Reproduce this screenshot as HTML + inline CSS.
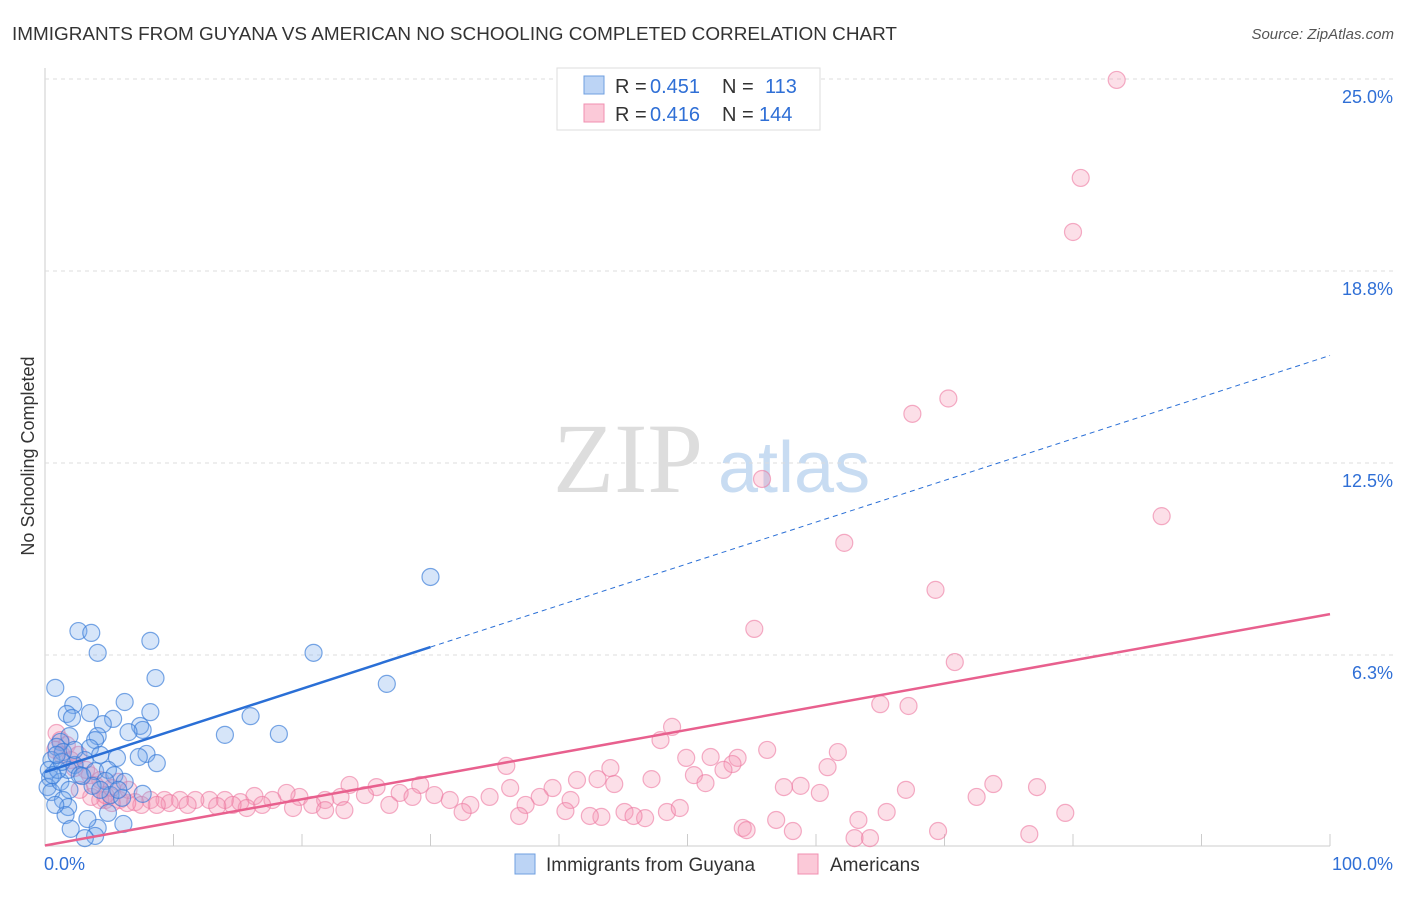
<!DOCTYPE html>
<html><head><meta charset="utf-8"><style>
body{margin:0;background:#fff;font-family:"Liberation Sans",sans-serif}
svg text{font-family:"Liberation Sans",sans-serif}
</style></head><body>
<svg id="c" width="1406" height="892">
<text x="12" y="40" font-size="18" fill="#333" textLength="885" lengthAdjust="spacingAndGlyphs">IMMIGRANTS FROM GUYANA VS AMERICAN NO SCHOOLING COMPLETED CORRELATION CHART</text>
<text x="1394" y="39" font-size="15" fill="#555" font-style="italic" text-anchor="end">Source: ZipAtlas.com</text>
<text transform="translate(34,456) rotate(-90)" font-size="18" fill="#333" text-anchor="middle">No Schooling Completed</text>
<text x="553" y="492" font-size="100" fill="#ddd" style="font-family:'Liberation Serif',serif">ZIP</text>
<text x="718" y="492" font-size="72" fill="#c8dcf2">atlas</text>
<g id="grid"></g><g id="pts"></g><g id="lines"></g>
<g>
<rect x="557" y="68" width="263" height="62" fill="#fff" stroke="#ddd"/>
<rect x="584" y="76" width="20" height="18" fill="#bcd4f5" stroke="#6f9fe0"/>
<rect x="584" y="104" width="20" height="18" fill="#fbc9d8" stroke="#f08fb0"/>
<text y="93" font-size="20" fill="#333"><tspan x="615">R =</tspan><tspan x="650" fill="#2f6fd6">0.451</tspan><tspan x="722">N =</tspan><tspan x="765" fill="#2f6fd6">113</tspan></text>
<text y="121" font-size="20" fill="#333"><tspan x="615">R =</tspan><tspan x="650" fill="#2f6fd6">0.416</tspan><tspan x="722">N =</tspan><tspan x="759" fill="#2f6fd6">144</tspan></text>
</g>
<g>
<rect x="515" y="854" width="20" height="20" fill="#bcd4f5" stroke="#6f9fe0"/>
<text x="546" y="871" font-size="19" fill="#333">Immigrants from Guyana</text>
<rect x="798" y="854" width="20" height="20" fill="#fbc9d8" stroke="#f08fb0"/>
<text x="830" y="871" font-size="19" fill="#333">Americans</text>
</g>
</svg>
<script>
const yTicks=[6.25,12.5,18.75,25];
const yTickLabels=["6.3%","12.5%","18.8%","25.0%"];
const xTickLabels=["0.0%","100.0%"];
const blueX=[30.0,20.9,26.6,18.2,16.0,14.0,2.6,3.6,4.1,8.2,8.6,0.8,8.2,6.2,2.2,1.7,3.5,2.1,5.3,4.5,7.4,7.6,6.5,4.1,3.9,1.9,1.2,0.9,1.4,3.5,7.9,8.7,7.3,5.6,4.3,3.1,2.3,0.5,0.3,0.4,0.2,0.5,1.2,1.8,2.7,3.9,4.9,5.4,4.7,6.2,3.7,1.9,1.4,1.8,5.1,6.0,7.6,1.6,4.9,6.1,2.0,4.1,3.3,3.9,3.1,0.8,1.0,1.3,2.3,2.9,4.3,5.7,0.6,0.9];
const blueY=[8.79,6.32,5.31,3.68,4.26,3.65,7.03,6.97,6.32,6.71,5.50,5.18,4.39,4.72,4.62,4.33,4.36,4.20,4.17,4.00,3.94,3.81,3.74,3.61,3.48,3.61,3.42,3.26,3.09,3.22,3.03,2.73,2.93,2.90,3.00,2.83,2.67,2.83,2.51,2.25,1.95,1.79,2.12,2.51,2.34,2.47,2.51,2.34,2.15,2.12,1.99,1.86,1.53,1.30,1.69,1.60,1.73,1.04,1.11,0.75,0.59,0.62,0.91,0.36,0.29,1.37,2.51,2.77,3.16,2.31,1.86,1.86,2.34,3.0];
const pinkX=[83.4,80.6,80.0,70.3,67.5,55.8,86.9,62.2,69.3,55.2,70.8,65.0,67.2,48.8,47.9,56.2,61.7,51.8,53.9,49.9,53.5,44.0,60.9,35.9,52.8,50.5,47.2,41.4,43.0,73.8,77.2,67.0,58.8,57.5,60.3,72.5,51.4,44.3,39.5,38.5,36.2,40.9,37.4,34.6,33.1,31.5,32.5,36.9,40.5,43.3,45.1,46.7,48.4,49.4,42.4,45.8,56.9,65.5,63.3,79.4,54.3,54.6,58.2,69.5,76.6,63.0,64.2,23.7,25.8,29.2,27.6,30.3,28.6,24.9,23.0,26.8,21.8,23.3,19.8,18.8,17.7,16.3,15.2,14.0,12.8,11.7,10.5,9.3,8.2,7.0,5.8,4.7,3.6,20.8,19.3,16.9,15.7,14.6,13.4,11.1,9.7,8.7,7.5,6.4,5.2,4.3,21.8,0.9,1.2,1.7,2.6,1.3,2.3,3.5,4.3,5.7,2.7,3.9,5.2,6.5,4.7,3.2,2.0,0.8,58.0];
const pinkY=[24.97,21.78,20.02,14.6,14.1,11.98,10.77,9.9,8.37,7.10,6.02,4.65,4.59,3.91,3.48,3.16,3.09,2.93,2.90,2.90,2.70,2.57,2.60,2.64,2.51,2.34,2.21,2.18,2.21,2.05,1.95,1.86,1.99,1.95,1.76,1.63,2.08,2.05,1.92,1.63,1.92,1.53,1.37,1.63,1.37,1.53,1.14,1.01,1.17,0.98,1.14,0.94,1.14,1.27,1.01,1.01,0.88,1.14,0.88,1.11,0.62,0.55,0.52,0.52,0.42,0.29,0.29,2.02,1.95,2.02,1.76,1.69,1.63,1.69,1.63,1.37,1.53,1.20,1.63,1.76,1.53,1.66,1.46,1.53,1.53,1.53,1.53,1.53,1.53,1.46,1.53,1.53,1.63,1.37,1.27,1.37,1.27,1.37,1.33,1.37,1.43,1.37,1.37,1.43,1.43,1.53,1.20,3.71,3.48,3.32,3.0,3.0,2.57,2.34,2.18,2.12,1.86,2.02,1.92,1.86,1.69,2.51,2.83,3.16,23.8];
const blueTrend=[2.44,16.0];
const pinkTrend=[0.05,7.58];
const X=v=>45+v*12.85, Y=v=>847-v*30.72;
const NS="http://www.w3.org/2000/svg";
function mk(t,a,p){const e=document.createElementNS(NS,t);for(const k in a)e.setAttribute(k,a[k]);p.appendChild(e);return e;}
const grid=document.getElementById('grid');
mk('line',{x1:45,y1:68,x2:45,y2:846,stroke:'#ccc'},grid);
mk('line',{x1:45,y1:846,x2:1330,y2:846,stroke:'#ccc'},grid);
for(let i=1;i<=10;i++){const l=mk('line',{x1:X(i*10),y1:846,x2:X(i*10),y2:834,stroke:'#ccc'},grid);

}
yTicks.forEach((t,i)=>{const l=mk('line',{x1:45,y1:Y(t),x2:1395,y2:Y(t),stroke:'#ddd','stroke-dasharray':'4,4'},grid);


const tx=mk('text',{x:1393,y:Y(t)+24,'font-size':18,fill:'#2f6fd6','text-anchor':'end'},grid);tx.textContent=yTickLabels[i];

});
const xl0=mk('text',{x:44,y:870,'font-size':18,fill:'#2f6fd6'},grid);xl0.textContent=xTickLabels[0];


const xl1=mk('text',{x:1393,y:870,'font-size':18,fill:'#2f6fd6','text-anchor':'end'},grid);xl1.textContent=xTickLabels[1];


const pts=document.getElementById('pts');
pinkX.forEach((x,i)=>{const c=mk('circle',{cx:X(x),cy:Y(pinkY[i]),r:8.5,fill:'rgba(244,150,180,0.3)',stroke:'rgba(236,120,160,0.6)','stroke-width':1.2},pts);

});
blueX.forEach((x,i)=>{const c=mk('circle',{cx:X(x),cy:Y(blueY[i]),r:8.5,fill:'rgba(120,170,235,0.3)',stroke:'rgba(50,120,215,0.65)','stroke-width':1.2},pts);

});
const ln=document.getElementById('lines');
const by=x=>blueTrend[0]+(blueTrend[1]-blueTrend[0])*x/100;
const b1=mk('line',{x1:X(0),y1:Y(by(0)),x2:X(30),y2:Y(by(30)),stroke:'#2a6fd6','stroke-width':2.5},ln);


const b2=mk('line',{x1:X(30),y1:Y(by(30)),x2:X(100),y2:Y(by(100)),stroke:'#2a6fd6','stroke-width':1,'stroke-dasharray':'5,4'},ln);


const p1=mk('line',{x1:X(0),y1:Y(pinkTrend[0]),x2:X(100),y2:Y(pinkTrend[1]),stroke:'#e8608e','stroke-width':2.5},ln);


</script>
</body></html>
